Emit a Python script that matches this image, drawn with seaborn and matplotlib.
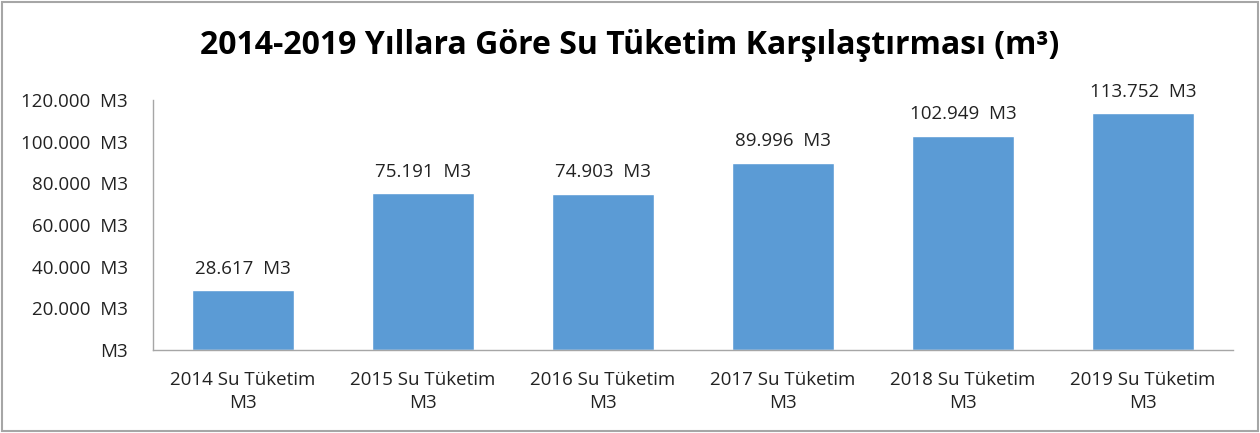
import matplotlib
matplotlib.use("Agg")
import matplotlib.pyplot as plt
import seaborn as sns
import pandas as pd
from matplotlib.ticker import FuncFormatter
from matplotlib.patches import Rectangle

categories = ["2014 Su Tüketim\nM3", "2015 Su Tüketim\nM3", "2016 Su Tüketim\nM3",
              "2017 Su Tüketim\nM3", "2018 Su Tüketim\nM3", "2019 Su Tüketim\nM3"]
values = [28617, 75191, 74903, 89996, 102949, 113752]
value_labels = ["28.617  M3", "75.191  M3", "74.903  M3", "89.996  M3", "102.949  M3", "113.752  M3"]
yticks = [0, 20000, 40000, 60000, 80000, 100000, 120000]
title = "2014-2019 Yıllara Göre Su Tüketim Karşılaştırması (m³)"

sns.set_theme(style="white")
plt.rcParams['font.family'] = ['Open Sans', 'DejaVu Sans']

df = pd.DataFrame({"cat": categories, "val": values})

fig = plt.figure(figsize=(12.6, 4.33), dpi=100)
ax = fig.add_axes([153/1260, 1 - 350/433, 1080/1260, 250/433])
sns.barplot(data=df, x="cat", y="val", color="#5B9BD5", saturation=1, width=0.567, ax=ax)

ax.set_xlim(-0.5, 5.5)
ax.set_ylim(0, 120000)
ax.set_yticks(yticks)

def fmt(v, pos):
    if v == 0:
        return "M3"
    return f"{int(v):,}".replace(",", ".") + "  M3"
ax.yaxis.set_major_formatter(FuncFormatter(fmt))
ax.tick_params(axis="y", labelsize=13.5, colors="#222222", length=0, pad=18)
ax.tick_params(axis="x", labelsize=13.5, colors="#222222", length=0, pad=15)
for t in ax.get_xticklabels():
    t.set_linespacing(1.4)
ax.set_xlabel("")
ax.set_ylabel("")

for s in ["top", "right"]:
    ax.spines[s].set_visible(False)
for s in ["left", "bottom"]:
    ax.spines[s].set_color("#A6A6A6")
    ax.spines[s].set_linewidth(1)

for i, (v, lab) in enumerate(zip(values, value_labels)):
    ax.annotate(lab, (i, v), xytext=(0, 9), textcoords="offset points",
                ha="center", va="bottom", fontsize=13.5, color="#222222")

fig.text(0.5, 1 - 45/433, title, ha="center", va="center",
         fontsize=23, fontweight="bold", color="black")

fig.patches.append(Rectangle((2/1260, 2/433), 1 - 4/1260, 1 - 4/433, transform=fig.transFigure,
                             fill=False, edgecolor="#A6A6A6", linewidth=1.5))

fig.savefig("out.png", dpi=100)
